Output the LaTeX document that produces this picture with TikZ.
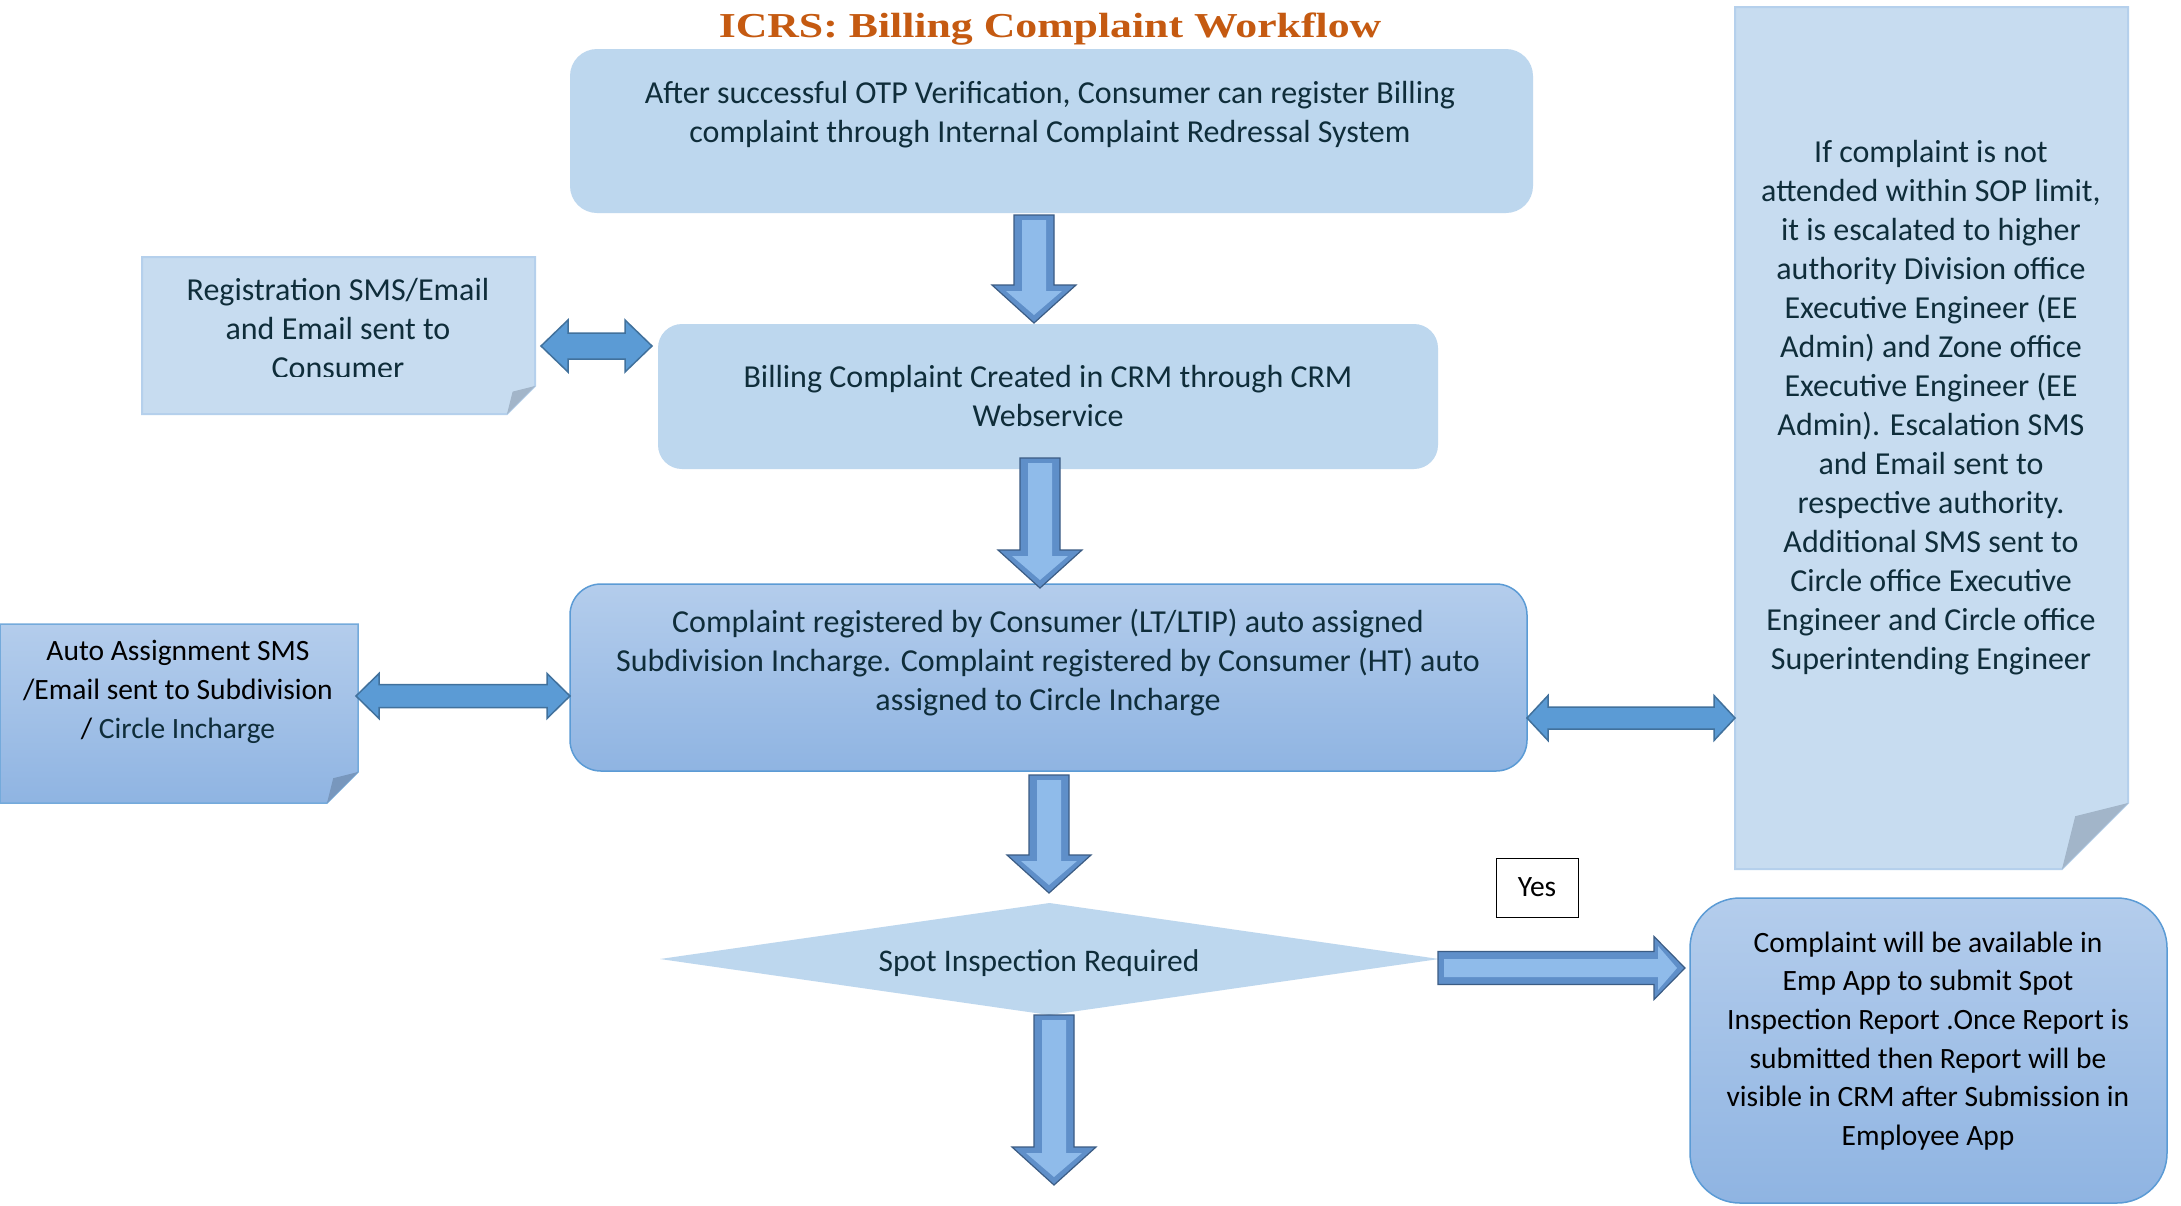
\documentclass[tikz,border=0pt]{standalone}
\usepackage{fontspec}
\setmainfont{Carlito}
\newfontfamily\titlefont[FakeStretch=1.25]{Liberation Serif}
\usetikzlibrary{calc,shapes.geometric}
\definecolor{lightbox}{HTML}{BDD7EE}
\definecolor{notefill}{HTML}{C7DCF0}
\definecolor{noteedge}{HTML}{B5D0EC}
\definecolor{foldc}{HTML}{A2B5C9}
\definecolor{foldd}{HTML}{7897BD}
\definecolor{gradtop}{HTML}{B4CDEC}
\definecolor{gradbot}{HTML}{8FB4E2}
\definecolor{edgeblue}{HTML}{5B9BD5}
\definecolor{darrfill}{HTML}{5B9BD5}
\definecolor{darredge}{HTML}{41719C}
\definecolor{txt}{HTML}{0F2D3A}
\definecolor{titlec}{HTML}{C55A11}
\definecolor{bevouter}{HTML}{5F8FC9}
\definecolor{bevinner}{HTML}{8FBBEA}
\definecolor{beveledge}{HTML}{3B5C84}

% vertical bevel arrow: #1 gives x and top y, #2 gives tip y
\newcommand\BevelDown[2]{%
  \path[bevout] let \p1=(#1), \p2=(#2) in
    (\x1-20pt,\y1) -- (\x1+20pt,\y1) -- (\x1+20pt,\y2+38pt) -- (\x1+42pt,\y2+38pt)
    -- (\x1,\y2) -- (\x1-42pt,\y2+38pt) -- (\x1-20pt,\y2+38pt) -- cycle;
  \path[bevin] let \p1=(#1), \p2=(#2) in
    (\x1-12pt,\y1-5pt) -- (\x1+12pt,\y1-5pt) -- (\x1+12pt,\y2+32pt) -- (\x1+28pt,\y2+32pt)
    -- (\x1,\y2+8pt) -- (\x1-28pt,\y2+32pt) -- (\x1-12pt,\y2+32pt) -- cycle;}
% horizontal bevel arrow: #1 gives start x and y, #2 gives tip x
\newcommand\BevelRight[2]{%
  \path[bevout] let \p1=(#1), \p2=(#2) in
    (\x1,\y1+16.5pt) -- (\x2-31pt,\y1+16.5pt) -- (\x2-31pt,\y1+31.5pt) -- (\x2,\y1)
    -- (\x2-31pt,\y1-31.5pt) -- (\x2-31pt,\y1-16.5pt) -- (\x1,\y1-16.5pt) -- cycle;
  \path[bevin] let \p1=(#1), \p2=(#2) in
    (\x1+6pt,\y1+9pt) -- (\x2-27pt,\y1+9pt) -- (\x2-27pt,\y1+22pt) -- (\x2-8pt,\y1)
    -- (\x2-27pt,\y1-22pt) -- (\x2-27pt,\y1-9pt) -- (\x1+6pt,\y1-9pt) -- cycle;}
% flat double arrow: #1 start (x,y), #2 end x, #3 shaft half, #4 head half, #5 head length
\newcommand\DblArrow[5]{%
  \path[dblarr] let \p1=(#1), \p2=(#2) in
    (\x1,\y1) -- (\x1+#5,\y1+#4) -- (\x1+#5,\y1+#3) -- (\x2-#5,\y1+#3) -- (\x2-#5,\y1+#4)
    -- (\x2,\y1) -- (\x2-#5,\y1-#4) -- (\x2-#5,\y1-#3) -- (\x1+#5,\y1-#3) -- (\x1+#5,\y1-#4) -- cycle;}
% folded note outline: #1 node name, #2 fold size, #3 style, #4 fold colour
\newcommand\NoteShape[4]{%
  \path[#3] (#1.north west) -- (#1.north east) -- ($(#1.south east)+(0,-#2)$)
    -- ($(#1.south east)+(-#2,0)$) -- (#1.south west) -- cycle;
  \path[fill=#4] ($(#1.south east)+(0,-#2)$) -- ($(#1.south east)+(-0.8*#2,-0.8*#2)$)
    -- ($(#1.south east)+(-#2,0)$) -- cycle;}

\begin{document}
\begin{tikzpicture}[x=1pt,y=-1pt,
  body/.style={font=\fontsize{32}{39}\selectfont, align=center, text=txt, inner sep=0},
  blackbody/.style={font=\fontsize{29.5}{38.7}\selectfont, align=center, text=black, inner sep=0},
  frame/.style={inner sep=0, outer sep=0},
  flatbox/.style={frame, fill=lightbox},
  gradbox/.style={frame, top color=gradtop, bottom color=gradbot, draw=edgeblue, line width=1.5pt},
  notelight/.style={fill=notefill, draw=noteedge, line width=2pt},
  notegrad/.style={top color=gradtop, bottom color=gradbot, draw=edgeblue!85, line width=1.5pt},
  bevout/.style={fill=bevouter, draw=beveledge, line width=1.2pt},
  bevin/.style={fill=bevinner},
  dblarr/.style={fill=darrfill, draw=darredge, line width=1.5pt, line join=miter}]
\useasboundingbox[fill=white] (0,0) rectangle (2181,1205);

% title
\node[anchor=base, text=titlec, font=\titlefont\bfseries\fontsize{35}{40}\selectfont, inner sep=0] (title) at (1050,37) {ICRS: Billing Complaint Workflow};

% main boxes
\node[flatbox, minimum width=963, minimum height=164, rounded corners=27] (b1) at (1051.5,131) {};
\node[body] (t1) at (1050,115) {After successful OTP Verification, Consumer can register Billing\\complaint through Internal Complaint Redressal System};

\node[flatbox, minimum width=780, minimum height=145, rounded corners=24] (b2) at (1048,396.5) {};
\node[body] (t2) at (b2.center) {Billing Complaint Created in CRM through CRM\\Webservice};

\node[gradbox, minimum width=957, minimum height=187, rounded corners=31] (b3) at (1048.5,677.5) {};
\node[body] (t3) at (1048,663) {Complaint registered by Consumer (LT/LTIP) auto assigned\\Subdivision Incharge. Complaint registered by Consumer (HT) auto\\assigned to Circle Incharge};

\node[diamond, frame, fill=lightbox, minimum width=779, minimum height=112] (d) at (1049.5,959) {};
\node[body, font=\fontsize{31.5}{38}\selectfont] (td) at (1039,963) {Spot Inspection Required};

\node[gradbox, minimum width=477, minimum height=305, rounded corners=50] (rb) at (1928.5,1050.5) {};
\node[blackbody] (trb) at (1928,1041) {Complaint will be available in\\Emp App to submit Spot\\Inspection Report .Once Report is\\submitted then Report will be\\visible in CRM after Submission in\\Employee App};

\node[frame, draw=black, line width=1pt, fill=white, minimum width=82, minimum height=59] (yes) at (1537,887.5) {};
\node[blackbody] (tyes) at (yes.center) {Yes};

% notes
\node[frame, minimum width=393, minimum height=157] (n1) at (338.5,335.5) {};
\NoteShape{n1}{28}{notelight}{foldc}
\begin{scope}
\clip (n1.north west) rectangle ($(n1.east)+(0,41)$);
\node[body] (tn1) at (338,329) {Registration SMS/Email\\and Email sent to\\Consumer};
\end{scope}

\node[frame, minimum width=358, minimum height=179] (n2) at (179,713.5) {};
\NoteShape{n2}{31}{notegrad}{foldd}
\node[blackbody] (tn2) at (178,692) {Auto Assignment SMS\\/Email sent to Subdivision\\/ \textcolor{txt}{Circle Incharge}};

\node[frame, minimum width=393, minimum height=862] (n3) at (1931.5,438) {};
\NoteShape{n3}{66}{notelight}{foldc}
\node[body] (tn3) at (1931,408) {If complaint is not\\attended within SOP limit,\\it is escalated to higher\\authority Division office\\Executive Engineer (EE\\Admin) and Zone office\\Executive Engineer (EE\\Admin). Escalation SMS\\and Email sent to\\respective authority.\\Additional SMS sent to\\Circle office Executive\\Engineer and Circle office\\Superintending Engineer};

% connectors
\coordinate (end5) at (1054,1185);
\BevelDown{$(b1.south)+(-17.5,2)$}{$(b2.north)+(0,-1)$}
\BevelDown{$(b2.south)+(-8,-11)$}{$(b3.north)+(0,4)$}
\BevelDown{$(b3.south)+(0.5,4)$}{$(d.north)+(0,-10)$}
\BevelDown{$(d.south)+(4.5,0)$}{end5}
\BevelRight{$(d.east)+(-1,9)$}{$(rb.west)+(-5,0)$}

\DblArrow{$(n1.east)+(6,10.5)$}{$(b2.west)+(-6,0)$}{13pt}{26pt}{27pt}
\DblArrow{$(n2.east)+(-2,-17.5)$}{b3.west}{11.5pt}{22.5pt}{23pt}
\DblArrow{$(b3.east)+(0,40.5)$}{n3.west}{11pt}{22.5pt}{21pt}
\end{tikzpicture}
\end{document}
